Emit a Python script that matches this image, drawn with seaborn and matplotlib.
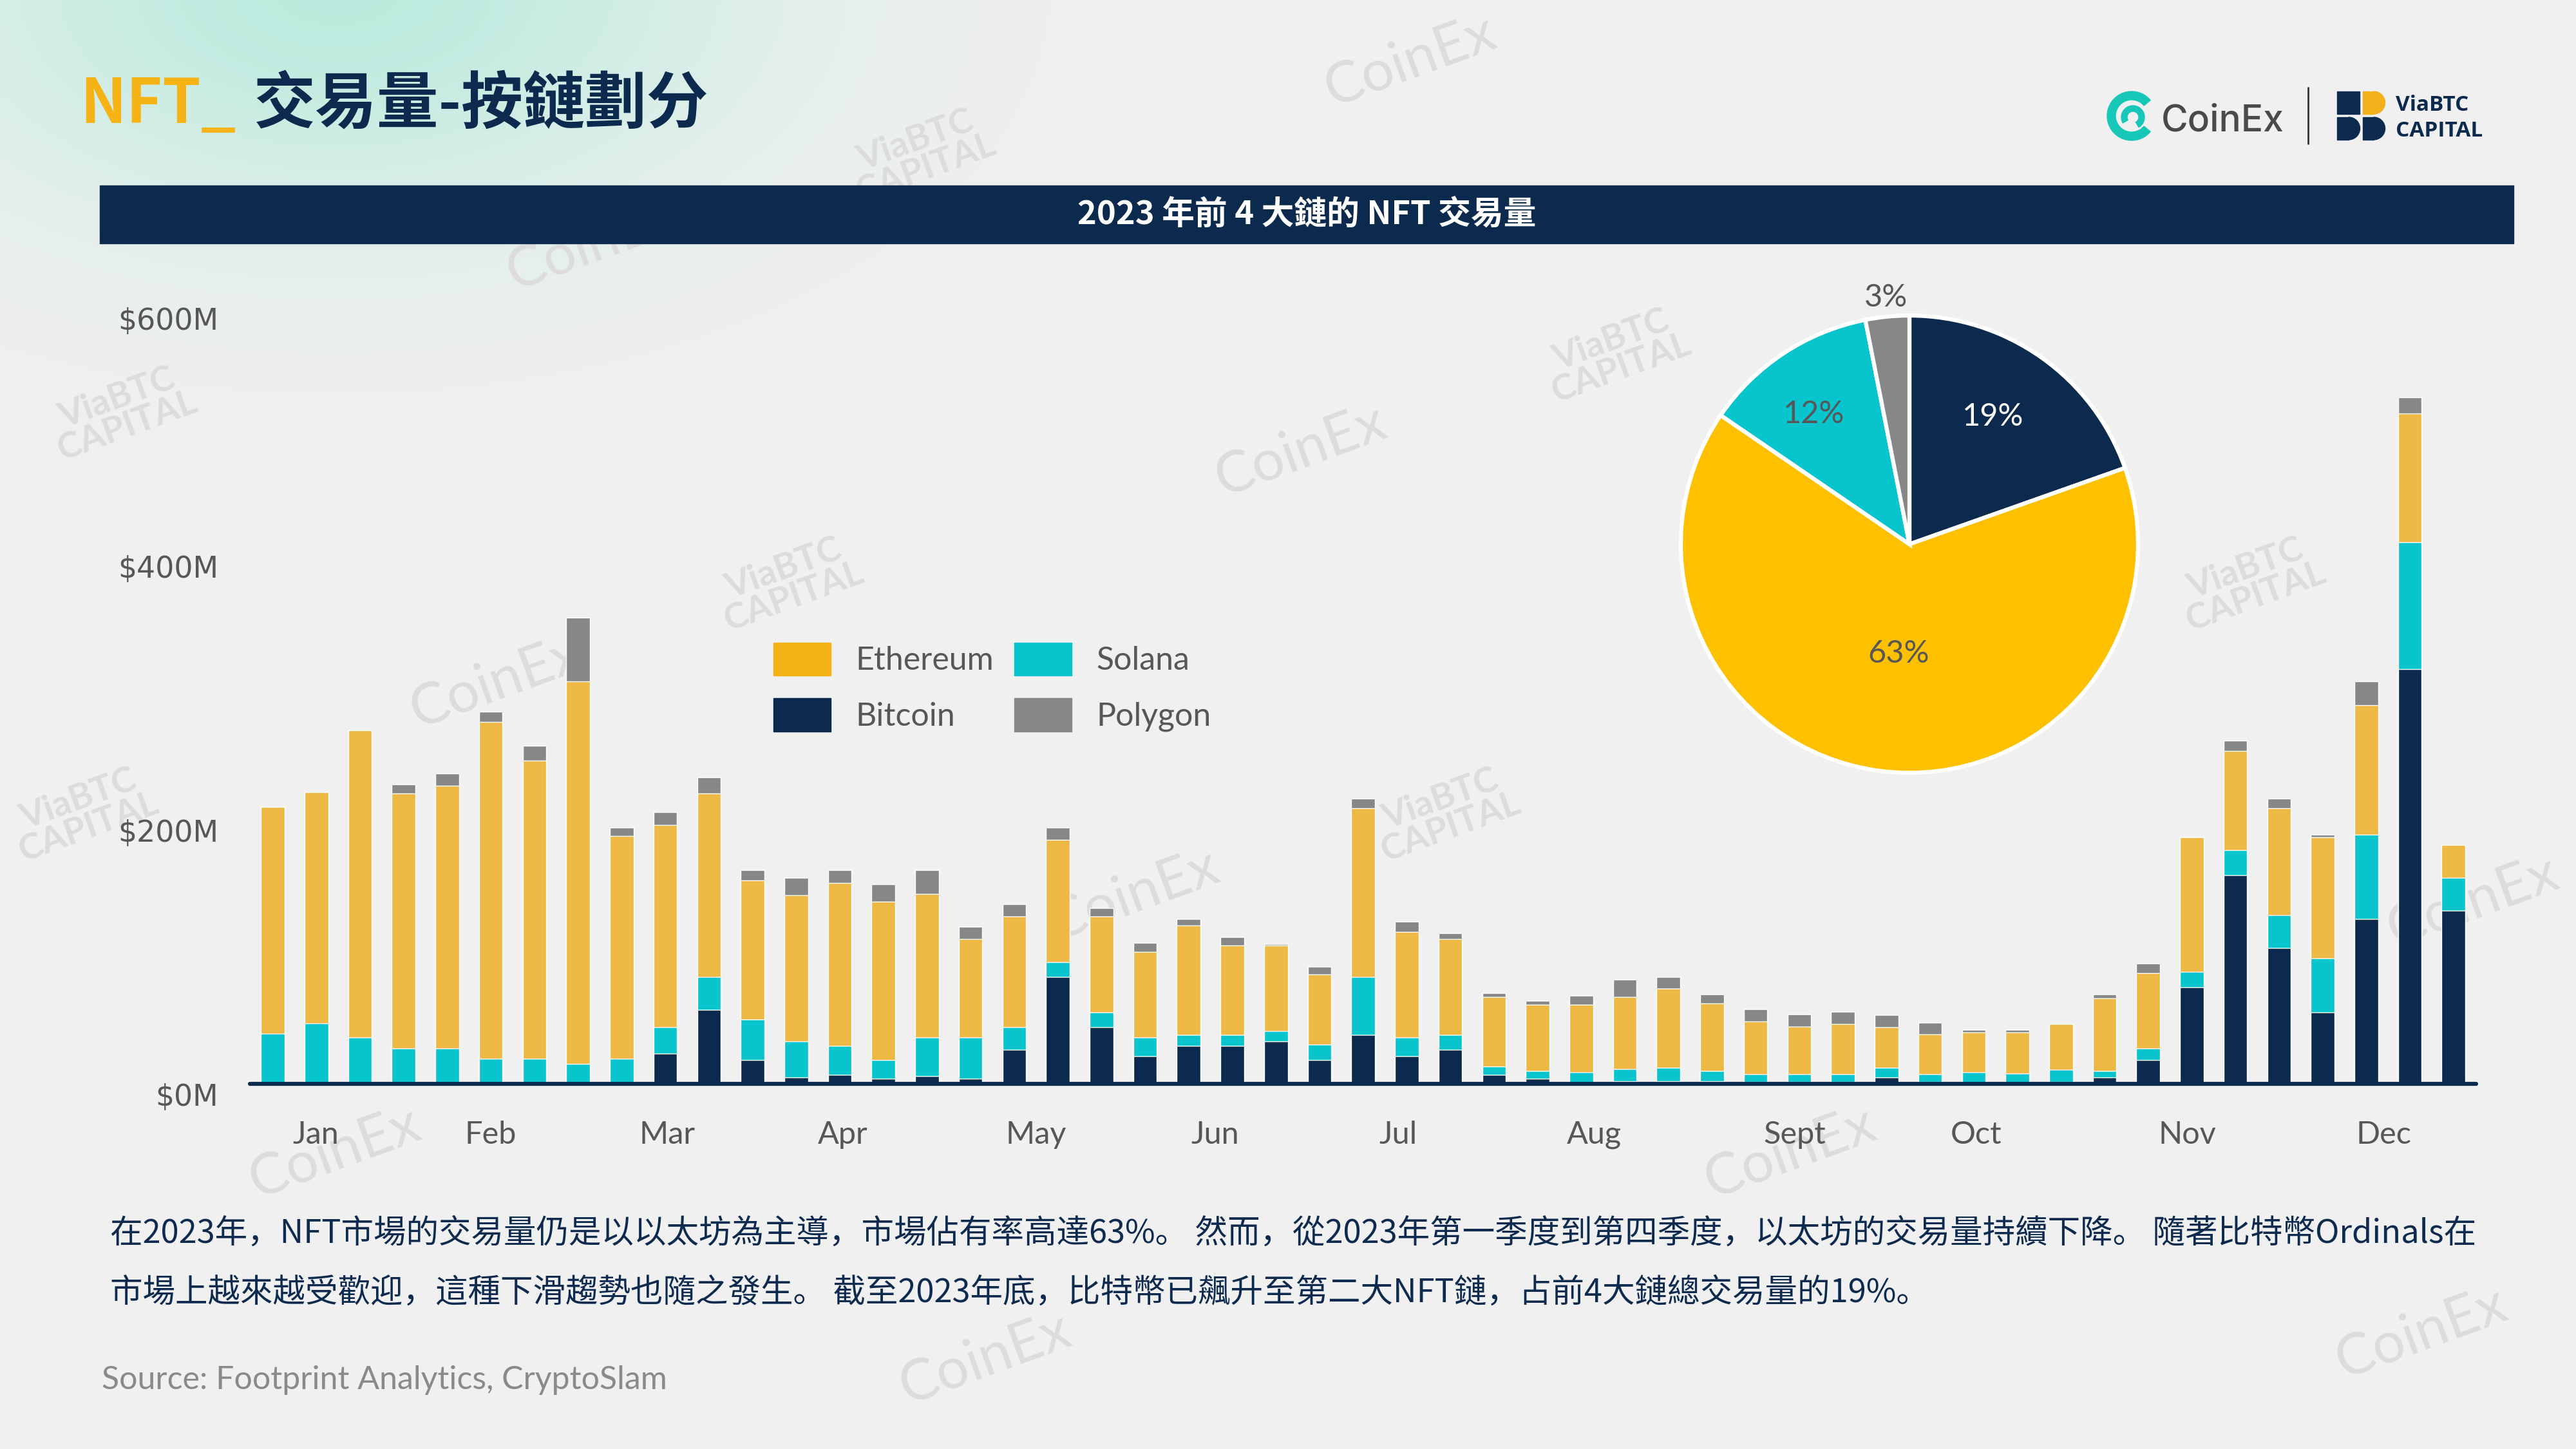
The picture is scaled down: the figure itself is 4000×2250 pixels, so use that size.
import numpy as np
import pandas as pd
import seaborn as sns
import matplotlib.pyplot as plt
from matplotlib.patches import Rectangle, Wedge, Patch
from matplotlib.transforms import ScaledTranslation

W, H = 4000, 2250

# weekly NFT volume 2023 by chain, $M
bitcoin = [0, 0, 0, 0, 0, 0, 0, 0, 0, 23, 56, 18, 5, 7, 4, 6, 4, 26, 81, 43,
           21, 29, 29, 32, 18, 37, 21, 26, 7, 4, 1, 2, 2, 2, 1.5, 1.5, 1.5, 5,
           1.5, 1, 1, 1.5, 5, 18, 73, 158, 103, 54, 125, 314, 131]
solana = [38, 46, 35, 27, 27, 19, 19, 15, 19, 20, 25, 31, 27, 22, 14, 29, 31,
          17, 11, 11, 14, 8, 8, 8, 12, 44, 14, 11, 6, 6, 8, 9, 10, 8, 6, 6, 6,
          7, 6, 8, 7, 9, 5, 9, 12, 19, 25, 41, 64, 96, 25]
ethereum = [172, 175, 233, 193, 199, 255, 226, 290, 169, 153, 139, 105, 111,
            123, 120, 109, 75, 84, 93, 73, 65, 83, 68, 65, 53, 128, 80, 73, 53,
            50, 51, 55, 60, 51, 40, 36, 38, 31, 30, 30, 31, 35, 55, 57, 102,
            75, 81, 92, 98, 98, 25]
polygon = [0, 0, 0, 7, 9, 8, 11, 48, 6, 10, 12, 8, 13, 10, 13, 18, 9, 9, 9, 6,
           7, 5, 6, 1, 6, 7, 8, 4, 3, 3, 7, 13, 9, 7, 9, 9, 9, 9, 9, 2, 2, 0, 3,
           7, 0, 8, 7, 2, 18, 12, 0]

month_labels = ["Jan", "Feb", "Mar", "Apr", "May", "Jun", "Jul", "Aug", "Sept",
                "Oct", "Nov", "Dec"]
month_pos = [0.98, 5.0, 9.04, 13.07, 17.5, 21.6, 25.8, 30.3, 34.9, 39.06,
             43.9, 48.4]
y_ticks = [0, 200, 400, 600]
y_labels = ["$0M", "$200M", "$400M", "$600M"]

pie_names = ["Bitcoin", "Ethereum", "Solana", "Polygon"]
pie_values = [19, 63, 12, 3]
pie_labels = ["19%", "63%", "12%", "3%"]

NAVY = "#0B2A4D"
ETH_BAR = "#EDB843"
ETH_LEG = "#F3B317"
ETH_PIE = "#FFC000"
SOL = "#08C4CC"
POLY = "#878787"
GREY_TXT = "#575757"
BG = "#F0F0F0"
CJK = ["Noto Sans CJK SC", "DejaVu Sans"]

sns.set_theme(style="white")
plt.rcParams["font.family"] = ["Lato", "Noto Sans CJK SC", "DejaVu Sans"]

fig = plt.figure(figsize=(W / 100, H / 100), dpi=100, facecolor=BG)

# ---- background layer (pixel coordinates) ----
bg = fig.add_axes([0, 0, 1, 1], zorder=-1)
yy, xx = np.mgrid[0:H:5, 0:W:5]
d = ((xx - 520) / 440.0) ** 2 + ((yy + 20) / 250.0) ** 2
alpha = 0.85 * np.exp(-0.5 * d)
glow = np.zeros(xx.shape + (4,))
glow[..., 0], glow[..., 1], glow[..., 2] = 0.70, 0.92, 0.86
glow[..., 3] = alpha
bg.imshow(glow, extent=(0, W, H, 0), zorder=0, interpolation="bilinear")
bg.set_aspect("auto")
bg.set_xlim(0, W)
bg.set_ylim(H, 0)
bg.axis("off")

# faint watermarks
for x, y in [(2190, 95), (920, 380), (2020, 700), (770, 1060), (1760, 1390),
             (520, 1790), (2780, 1790), (1530, 2110), (3760, 2070), (3840, 1400)]:
    bg.text(x, y, "CoinEx", rotation=20, fontsize=64, color="#DCDCDC",
            ha="center", va="center", zorder=1)
for x, y in [(1430, 240), (190, 640), (2510, 550), (1225, 905), (3495, 905),
             (2245, 1263), (130, 1263)]:
    bg.text(x, y, "ViaBTC\nCAPITAL", rotation=20, fontsize=40, color="#DCDCDC",
            ha="center", va="center", weight="bold", linespacing=0.9, zorder=1)

# title
t1 = bg.text(124, 191, "NFT_", color="#F5B316", fontsize=69, weight="bold",
             family=CJK, va="baseline", zorder=3)
bg.annotate("交易量-按鏈劃分", xy=(1, 0), xycoords=t1, xytext=(20, 0),
            textcoords="offset points", va="bottom", ha="left", color=NAVY,
            fontsize=69, weight="bold", family=CJK, zorder=3)

# banner
bg.add_patch(Rectangle((155, 288), 3748, 90, color=NAVY, zorder=3))
bg.text(2029, 334, "2023 年前 4 大鏈的 NFT 交易量", color="white", fontsize=36.5,
        weight="bold", family=CJK, ha="center", va="center", zorder=4)

# logos
bg.add_patch(Wedge((3310, 180), 38, 40, 320, width=13, color="#17C7B7", zorder=3))
bg.add_patch(Wedge((3312, 182), 18, 150, 420, width=9, color="#17C7B7", zorder=3))
bg.text(3356, 204, "CoinEx", fontsize=41, color="#4A4A4A", family="Inter",
        weight="medium", va="baseline", zorder=3)
bg.plot([3584, 3584], [136, 223], color="#333333", lw=2, zorder=3)
bg.add_patch(Rectangle((3629, 142), 35, 35, color=NAVY, zorder=3))
bg.add_patch(Rectangle((3669, 142), 17, 35, color="#F2B11B", zorder=3))
bg.add_patch(Wedge((3686, 159.5), 17.5, -90, 90, color="#F2B11B", zorder=3))
bg.add_patch(Rectangle((3629, 182), 18, 35, color=NAVY, zorder=3))
bg.add_patch(Wedge((3647, 199.5), 17.5, -90, 90, color=NAVY, zorder=3))
bg.add_patch(Rectangle((3669, 182), 17, 35, color=NAVY, zorder=3))
bg.add_patch(Wedge((3686, 199.5), 17.5, -90, 90, color=NAVY, zorder=3))
bg.text(3720, 172, "ViaBTC", fontsize=24, color=NAVY, weight="bold",
        family="Open Sans", va="baseline", zorder=3)
bg.text(3720, 212, "CAPITAL", fontsize=24, color=NAVY, weight="bold",
        family="Open Sans", va="baseline", zorder=3)

# commentary and source
line1 = ("在2023年，NFT市場的交易量仍是以以太坊為主導，市場佔有率高達63%。 然而，"
         "從2023年第一季度到第四季度，以太坊的交易量持續下降。 隨著比特幣Ordinals在")
line2 = ("市場上越來越受歡迎，這種下滑趨勢也隨之發生。 截至2023年底，比特幣已飆升至"
         "第二大NFT鏈，占前4大鏈總交易量的19%。")
bg.text(171, 1916, line1, fontsize=36.4, color="#0E2B4F", family=CJK,
        va="center", zorder=3)
bg.text(171, 2008, line2, fontsize=36.4, color="#0E2B4F", family=CJK,
        va="center", zorder=3)
bg.text(158, 2143, "Source: Footprint Analytics, CryptoSlam", fontsize=36,
        color="#8A8A8A", va="center", zorder=3)

# ---- stacked weekly bars ----
df = pd.DataFrame({"week": range(len(bitcoin)), "Bitcoin": bitcoin,
                   "Solana": solana, "Ethereum": ethereum, "Polygon": polygon})
df["l1"] = df["Bitcoin"]
df["l2"] = df["l1"] + df["Solana"]
df["l3"] = df["l2"] + df["Ethereum"]
df["l4"] = df["l3"] + df["Polygon"]

ax = fig.add_axes([388 / W, 1 - 1683 / H, (3845 - 388) / W, (1683 - 453) / H])
ax.patch.set_alpha(0)
for col, color in [("l4", POLY), ("l3", ETH_BAR), ("l2", SOL), ("l1", NAVY)]:
    sns.barplot(data=df, x="week", y=col, color=color, width=0.54,
                errorbar=None, saturation=1, ax=ax)
ax.set_xlim(-0.525, 50.52)
ax.set_ylim(0, 600)
ax.axhline(0, color=NAVY, lw=4.5, zorder=5, clip_on=False)
sns.despine(ax=ax, left=True, bottom=True)
ax.set_xlabel("")
ax.set_ylabel("")
ax.set_xticks(month_pos, month_labels)
ax.set_yticks(y_ticks, y_labels)
ax.tick_params(axis="x", length=0, pad=41, labelsize=35, labelcolor=GREY_TXT)
ax.tick_params(axis="y", length=0, pad=35, labelsize=33, labelcolor=GREY_TXT)
for lab in ax.get_yticklabels():
    lab.set_family("DejaVu Sans")
    shift = 42 if lab.get_text() == "$600M" else 16
    lab.set_transform(lab.get_transform()
                      + ScaledTranslation(0, -shift / 100, fig.dpi_scale_trans))

handles = [Patch(color=ETH_LEG), Patch(color=NAVY), Patch(color=SOL),
           Patch(color=POLY)]
ax.legend(handles, ["Ethereum", "Bitcoin", "Solana", "Polygon"], ncol=2,
          loc="upper left", bbox_to_anchor=(1201 / W, 1 - 998 / H),
          bbox_transform=fig.transFigure, frameon=False, fontsize=36,
          handlelength=1.78, handleheight=1.2, handletextpad=0.77,
          columnspacing=0.64, labelspacing=0.7, borderpad=0,
          borderaxespad=0, labelcolor=GREY_TXT)

# ---- share pie ----
r_px = 355
half = 1.25 * r_px
axp = fig.add_axes([(2965 - half) / W, 1 - (845 + half) / H, 2 * half / W,
                    2 * half / H])
axp.pie(pie_values, colors=[NAVY, ETH_PIE, SOL, POLY], startangle=90,
        counterclock=False, wedgeprops=dict(edgecolor="white", linewidth=4.5))
axp.set_xlim(-1.25, 1.25)
axp.set_ylim(-1.25, 1.25)
label_xy = [(0.366, 0.558), (-0.048, -0.479), (-0.417, 0.569), (-0.104, 1.079)]
label_col = ["white", GREY_TXT, GREY_TXT, GREY_TXT]
for txt, (lx, ly), c in zip(pie_labels, label_xy, label_col):
    axp.text(lx, ly, txt, ha="center", va="center", fontsize=35, color=c)

fig.savefig("out.png", dpi=100, facecolor=BG)
